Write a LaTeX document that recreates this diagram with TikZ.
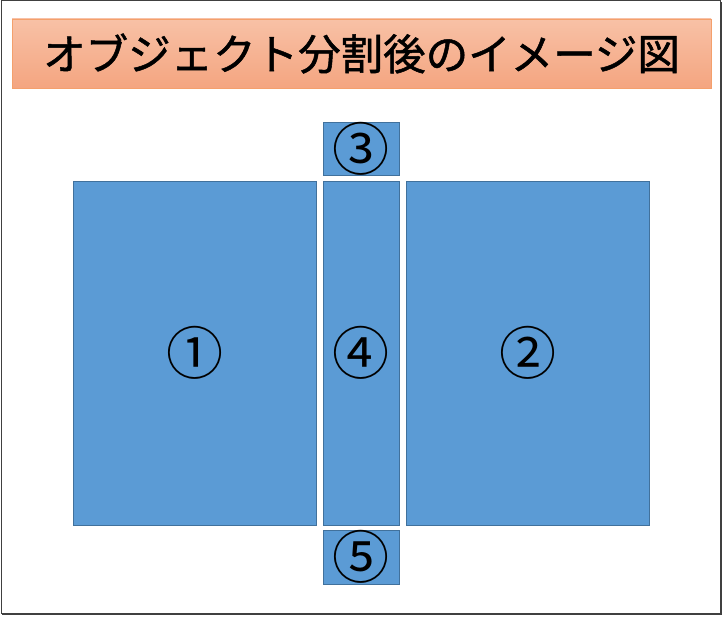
\documentclass[tikz,border=0pt]{standalone}
\usepackage{fontspec}
\usepackage{xcolor}
\usepackage{tikz}
\newfontfamily\jpfont[FakeBold=1.2]{Noto Sans CJK JP}
\newfontfamily\numfont{Noto Sans CJK JP}
\definecolor{blockfill}{HTML}{5B9BD5}
\definecolor{blockline}{HTML}{41719C}
\definecolor{titletop}{HTML}{F8C1A6}
\definecolor{titlebot}{HTML}{F4A580}
\definecolor{titleline}{HTML}{F4A06C}
\definecolor{frameline}{HTML}{404040}
\tikzset{
  frame/.style={draw=frameline, line width=1pt},
  titlebox/.style={draw=titleline, line width=0.8pt, top color=titletop, bottom color=titlebot,
    minimum width=699pt, minimum height=69pt, inner sep=0pt, font=\jpfont\fontsize{42.5}{42.5}\selectfont},
  blk/.style={draw=blockline, line width=0.9pt, fill=blockfill, inner sep=0pt},
  num/.style={font=\numfont\fontsize{57}{57}\selectfont, inner sep=0pt},
}

\begin{document}
\begin{tikzpicture}[x=1pt,y=-1pt]
  \useasboundingbox (0,0) rectangle (722,618);
  \draw[frame] (1,1) rectangle (720.5,613);
  \draw[frameline, line width=1pt] (721.5,2) -- (721.5,614) -- (2,614);

  \node[titlebox] (title) at (361.5,53.5) {オブジェクト分割後のイメージ図};

  \node[blk, minimum width=243pt, minimum height=344pt, label={[num]center:①}] (p1) at (194.5,353) {};
  \node[blk, minimum width=243pt, minimum height=344pt, label={[num]center:②}] (p2) at (527.5,353) {};
  \node[blk, minimum width=76pt, minimum height=53pt, label={[num]center:③}] (p3) at (361,148.5) {};
  \node[blk, minimum width=76pt, minimum height=344pt, label={[num]center:④}] (p4) at (361,353) {};
  \node[blk, minimum width=76pt, minimum height=54pt, label={[num]center:⑤}] (p5) at (361,557) {};
\end{tikzpicture}
\end{document}
